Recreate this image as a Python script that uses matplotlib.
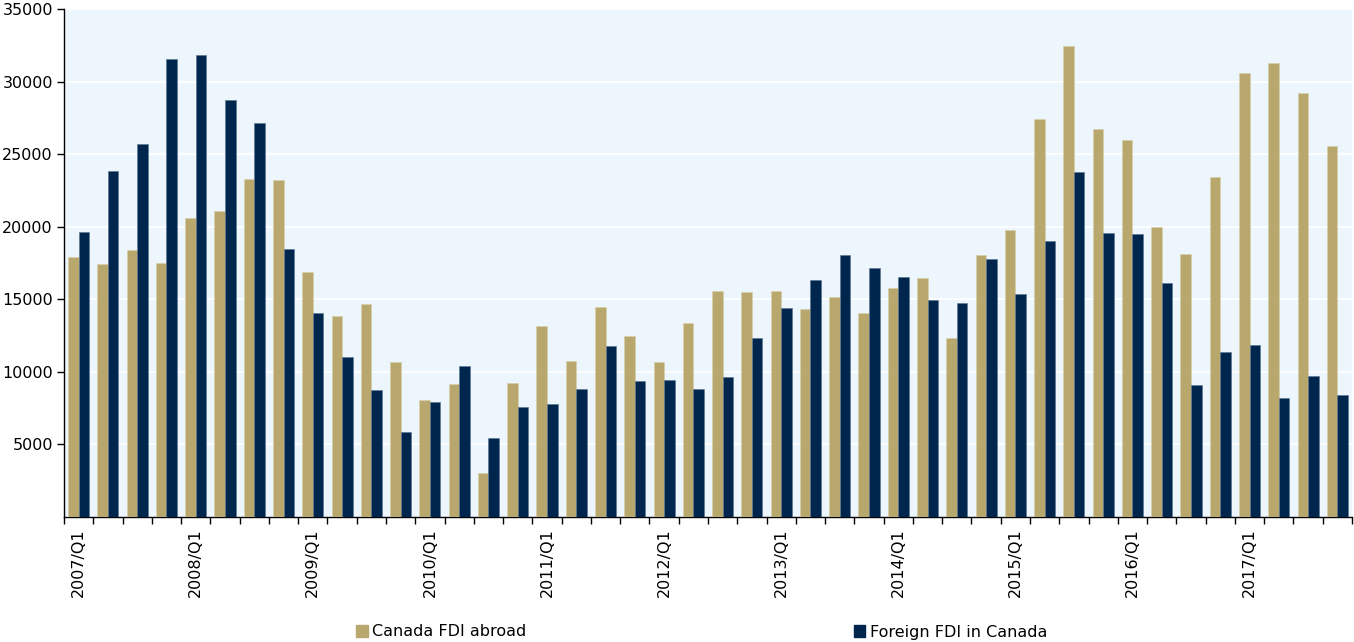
import matplotlib
matplotlib.use("Agg")
import matplotlib.pyplot as plt
import numpy as np
from matplotlib.patches import Patch

quarters = [f"{y}/Q{q}" for y in range(2007, 2018) for q in range(1, 5)]

canada_fdi_abroad = [
    17900, 17400, 18400, 17500,
    20600, 21050, 23300, 23200,
    16900, 13850, 14650, 10650,
    8050, 9150, 3000, 9200,
    13150, 10750, 14450, 12450,
    10650, 13400, 15600, 15500,
    15550, 14300, 15150, 14050,
    15800, 16450, 12300, 18050,
    19750, 27400, 32450, 26700,
    25950, 19950, 18100, 23450,
    30600, 31300, 29200, 25550,
]
foreign_fdi_in_canada = [
    19650, 23850, 25700, 31550,
    31800, 28700, 27150, 18450,
    14050, 11050, 8750, 5850,
    7900, 10400, 5450, 7600,
    7800, 8800, 11800, 9350,
    9450, 8850, 9650, 12300,
    14400, 16300, 18050, 17150,
    16550, 14950, 14750, 17750,
    15350, 19000, 23750, 19550,
    19500, 16100, 9100, 11400,
    11850, 8200, 9700, 8400,
]
series_names = ["Canada FDI abroad", "Foreign FDI in Canada"]
yticks = [5000, 10000, 15000, 20000, 25000, 30000, 35000]

gold = "#B8A86E"
navy = "#00264D"
bg = "#EEF6FD"

fig = plt.figure(figsize=(13.54, 6.42), dpi=100)
ax = fig.add_axes([64/1354, 125/642, (1352-64)/1354, (517-9)/642])
ax.set_facecolor(bg)

n = len(quarters)
x = np.arange(n)
w = 0.36
ax.bar(x - w/2, canada_fdi_abroad, width=w, color=gold, edgecolor="#D8CFA8", linewidth=0.4, zorder=3)
ax.bar(x + w/2, foreign_fdi_in_canada, width=w, color=navy, edgecolor="#5A7590", linewidth=0.4, zorder=3)

ax.set_xlim(-0.5, n - 0.5)
ax.set_ylim(0, 35000)
ax.set_yticks(yticks)
ax.set_yticklabels([str(v) for v in yticks], fontsize=11.5)
ax.yaxis.grid(True, color="white", linewidth=1.2, zorder=0)
ax.set_axisbelow(True)

# boundary ticks (major, no labels), labels at yearly category centers (minor)
ax.set_xticks(np.arange(n + 1) - 0.5)
ax.set_xticklabels([])
ax.tick_params(axis="x", which="major", length=5, direction="out", width=1)
ax.set_xticks(x[::4], minor=True)
ax.set_xticklabels(quarters[::4], minor=True, rotation=90, fontsize=11.5)
ax.tick_params(axis="x", which="minor", length=0, pad=8)
ax.tick_params(axis="y", length=5, direction="out", width=1, pad=3)

for s in ["top", "right"]:
    ax.spines[s].set_visible(False)
for s in ["left", "bottom"]:
    ax.spines[s].set_color("black")
    ax.spines[s].set_linewidth(1)

handles = [Patch(facecolor=gold, edgecolor=gold), Patch(facecolor=navy, edgecolor=navy)]
fig.legend(handles, series_names, loc="center", bbox_to_anchor=(702/1354, 1 - 632/642),
           ncol=2, frameon=False, fontsize=11.5, handlelength=0.7, handleheight=0.7,
           handletextpad=0.3, columnspacing=20.5, borderaxespad=0, borderpad=0)

fig.savefig("out.png", dpi=100)
